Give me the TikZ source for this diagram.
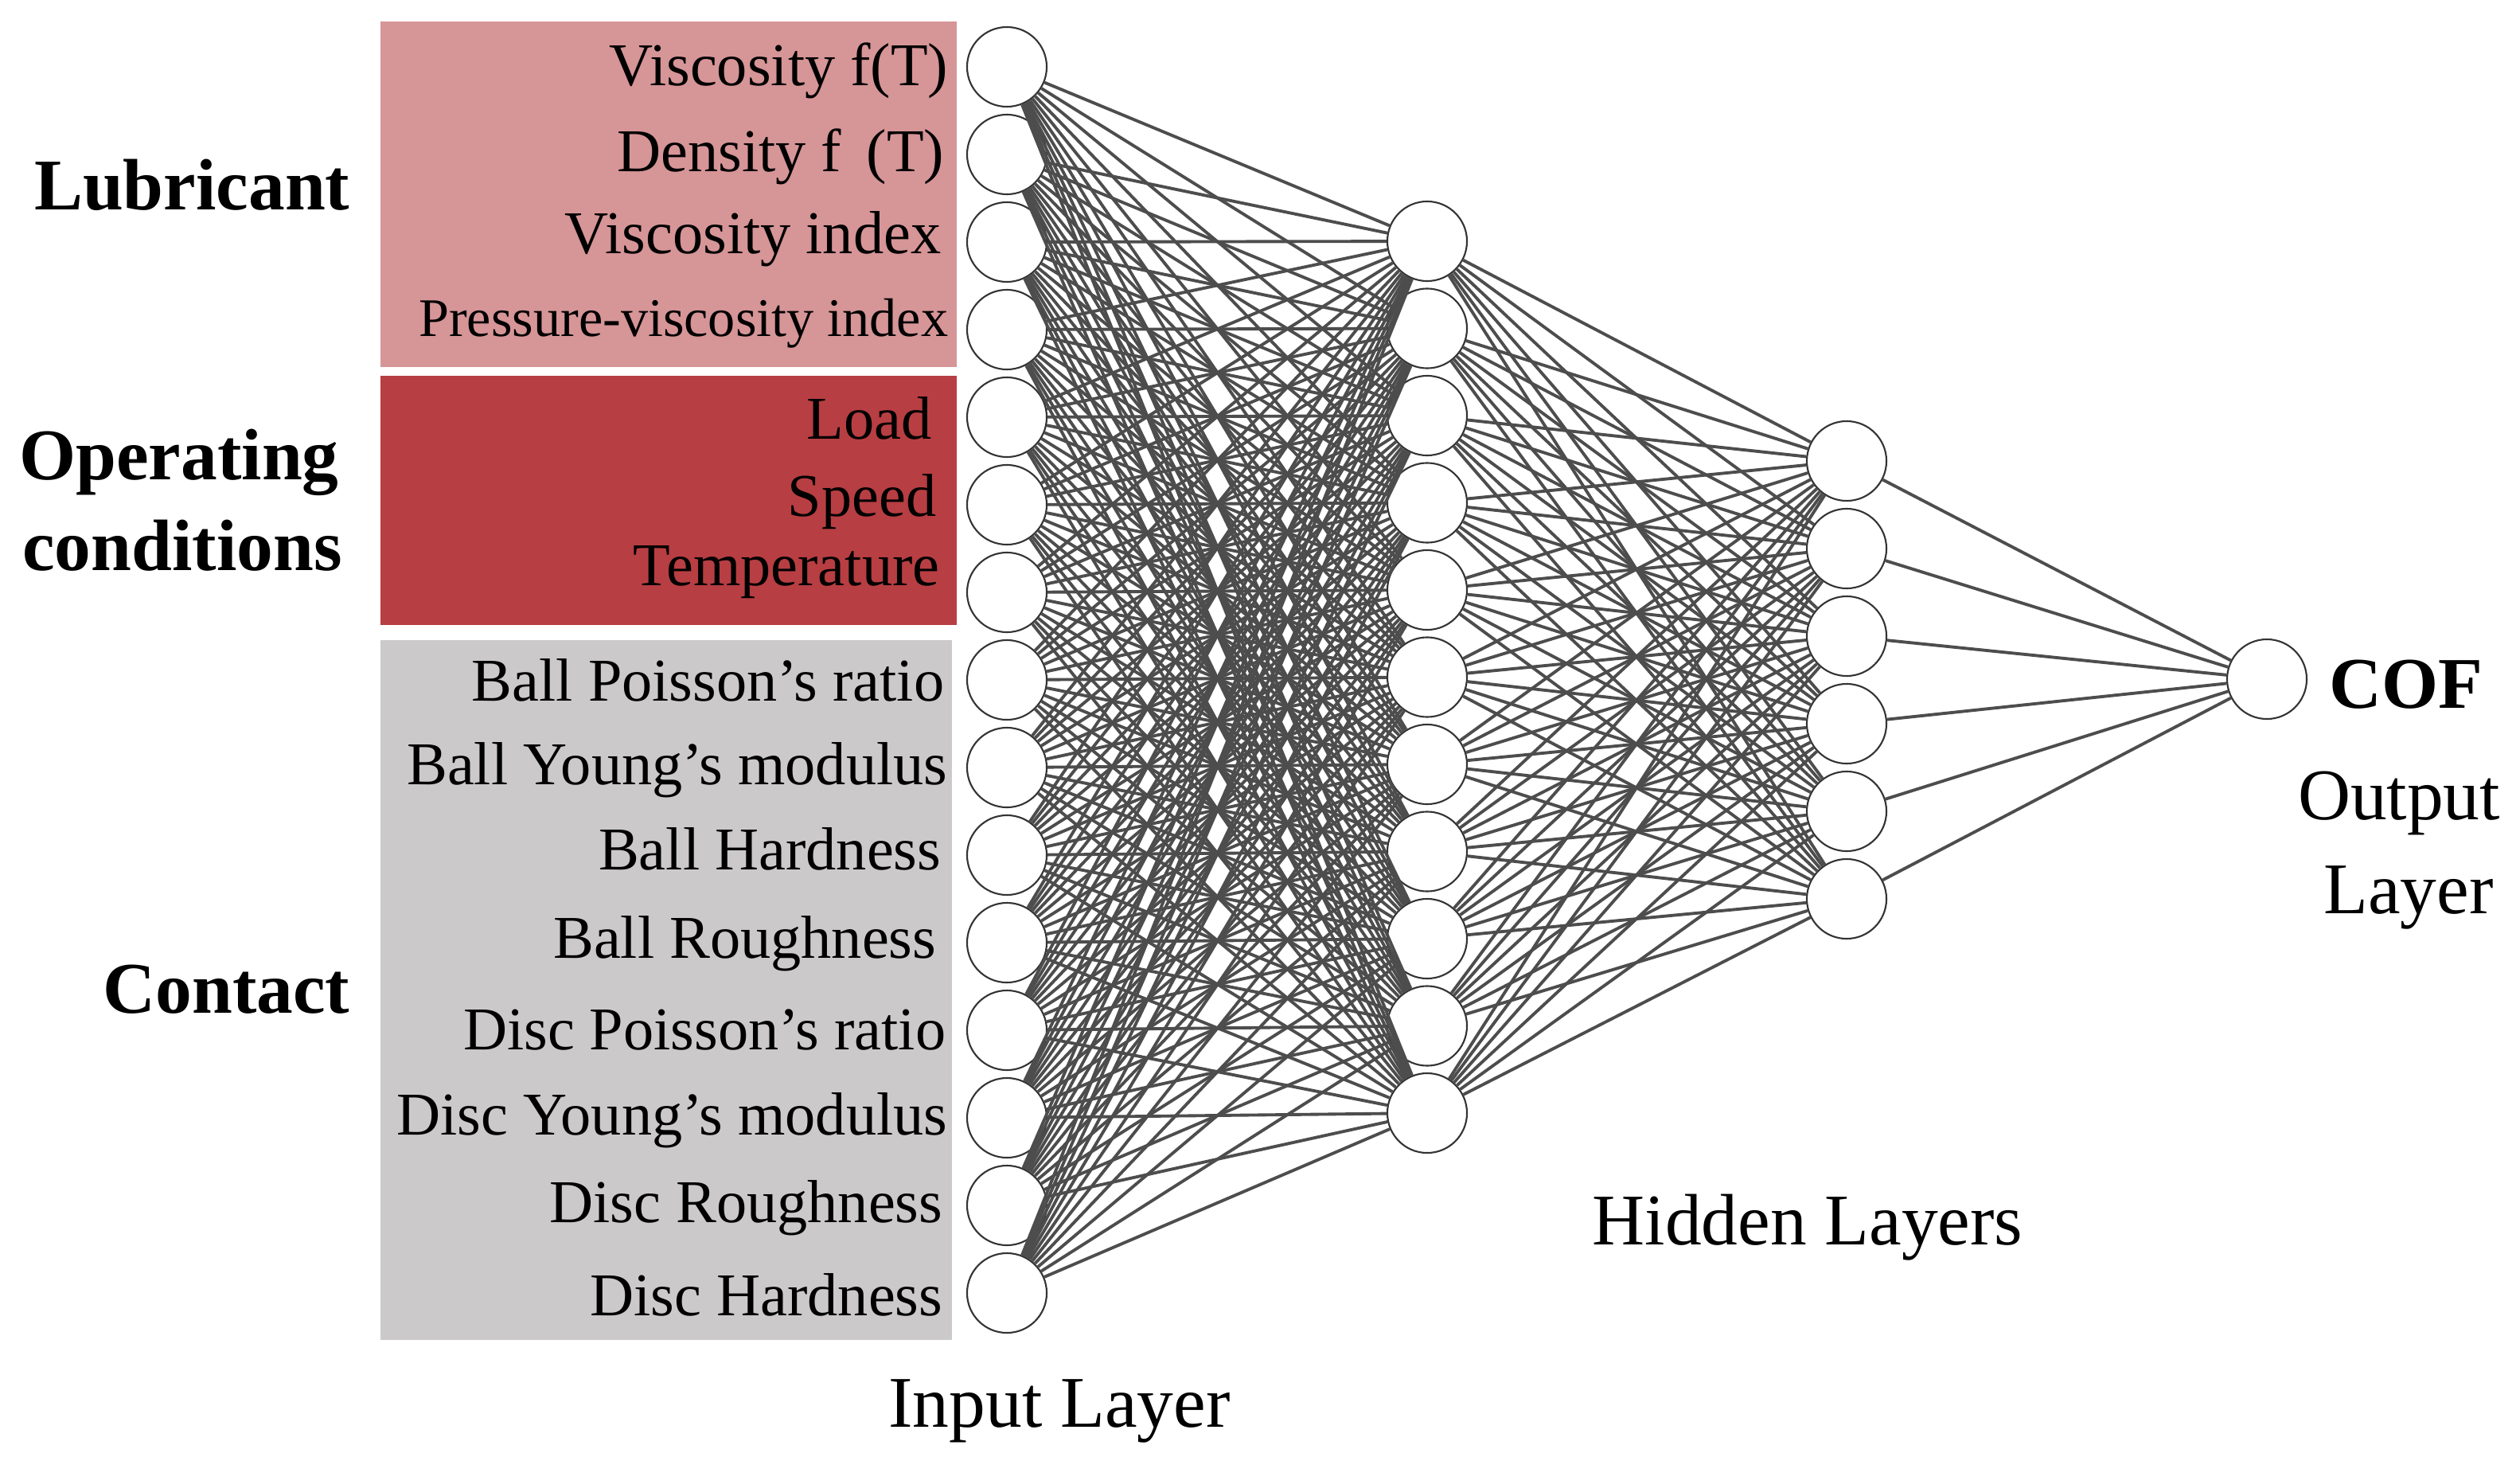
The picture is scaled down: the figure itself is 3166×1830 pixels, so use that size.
\documentclass[tikz,border=0pt]{standalone}
\usepackage{fontspec}
\setmainfont{Liberation Serif}
\definecolor{lubc}{HTML}{D69597}
\definecolor{opc}{HTML}{B73E42}
\definecolor{conc}{HTML}{CBC9CA}
\definecolor{edgec}{HTML}{4D4D4D}
\definecolor{circc}{HTML}{333333}
\begin{document}
\begin{tikzpicture}[x=0.01cm,y=-0.01cm,
  neuron/.style={circle,draw=circc,line width=0.6pt,fill=white,minimum size=1cm,inner sep=0pt},
  conn/.style={draw=edgec,line width=1.1pt},
  lbl/.style={anchor=base east,font=\fontsize{21.7}{25}\selectfont,inner sep=0pt},
  grp/.style={font=\fontsize{26}{32}\selectfont\bfseries,inner sep=0pt},
  layercap/.style={font=\fontsize{26}{32}\selectfont,inner sep=0pt,anchor=base}]
\useasboundingbox (0,0) rectangle (3166,1830);
% group boxes
\fill[lubc] (478,27) rectangle (1202,461);
\fill[opc] (478,472) rectangle (1202,785);
\fill[conc] (478,804) rectangle (1196,1683);
% neurons
\foreach \i in {1,...,15} \node[neuron] (in\i) at (1265,{84+110*(\i-1)}) {};
\foreach \j in {1,...,11} \node[neuron] (ha\j) at (1793,{303+109.5*(\j-1)}) {};
\foreach \k in {1,...,6} \node[neuron] (hb\k) at (2320,{579+110*(\k-1)}) {};
\node[neuron] (out) at (2848,853) {};
% connections
\foreach \i in {1,...,15} \foreach \j in {1,...,11} \draw[conn] (in\i) -- (ha\j);
\foreach \j in {1,...,11} \foreach \k in {1,...,6} \draw[conn] (ha\j) -- (hb\k);
\foreach \k in {1,...,6} \draw[conn] (hb\k) -- (out);
% input labels
\node[lbl] (lab1) at (1192,107) {Viscosity f(T)};
\node[lbl] (lab2) at (1187,215) {Density f\, (T)};
\node[lbl] (lab3) at (1183,318) {Viscosity index};
\node[lbl,font=\fontsize{19.4}{23}\selectfont] (lab4) at (1192,422) {Pressure-viscosity index};
\node[lbl] (lab5) at (1171,551) {Load};
\node[lbl] (lab6) at (1177,648) {Speed};
\node[lbl] (lab7) at (1181,735) {Temperature};
\node[lbl] (lab8) at (1187,880) {Ball Poisson’s ratio};
\node[lbl] (lab9) at (1191,985) {Ball Young’s modulus};
\node[lbl] (lab10) at (1183,1092) {Ball Hardness};
\node[lbl] (lab11) at (1177,1203) {Ball Roughness};
\node[lbl] (lab12) at (1189,1318) {Disc Poisson’s ratio};
\node[lbl] (lab13) at (1191,1425) {Disc Young’s modulus};
\node[lbl] (lab14) at (1185,1535) {Disc Roughness};
\node[lbl] (lab15) at (1185,1652) {Disc Hardness};
% group labels
\node[grp,anchor=base east] (glub) at (440,263) {Lubricant};
\node[grp,anchor=base] (gop1) at (225,602) {Operating};
\node[grp,anchor=base] (gop2) at (229,716) {conditions};
\node[grp,anchor=base east] (gcon) at (440,1272) {Contact};
% layer captions
\node[grp,anchor=base] (cof) at (3023,889) {COF};
\node[layercap] (outl1) at (3014,1029) {Output};
\node[layercap] (outl2) at (3026,1147) {Layer};
\node[layercap] (hidl) at (2271,1563) {Hidden Layers};
\node[layercap] (inl) at (1331,1792) {Input Layer};
\end{tikzpicture}
\end{document}
